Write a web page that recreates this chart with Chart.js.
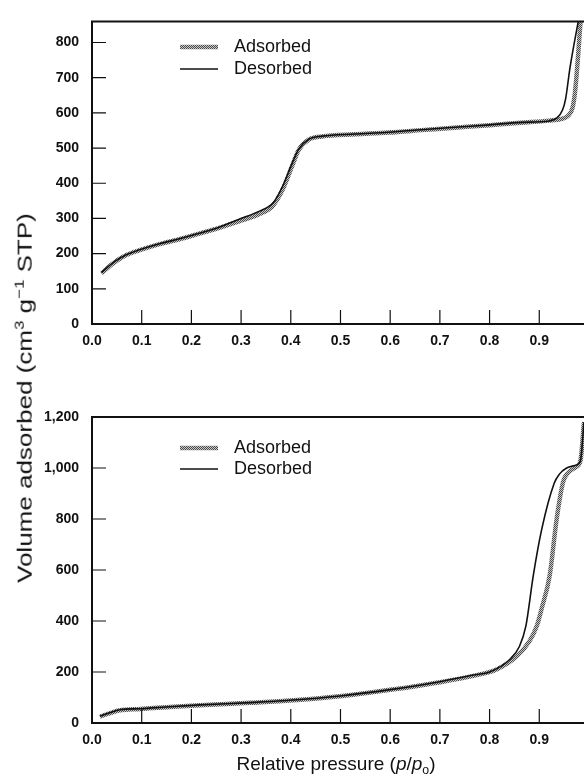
<!DOCTYPE html>
<html><head><meta charset="utf-8">
<script src="https://cdn.jsdelivr.net/npm/chart.js@4.4.1/dist/chart.umd.min.js"></script>
<style>
html,body{margin:0;padding:0;background:#fff;}
body{width:584px;height:778px;overflow:hidden;position:relative;font-family:"Liberation Sans",Arial,sans-serif;color:#111;}
canvas{position:absolute;left:0;}
#c1{top:0;}
#c2{top:380px;}
.yt{position:absolute;left:24px;top:398px;transform:translate(-50%,-50%) rotate(-90deg) scaleX(1.3);white-space:nowrap;font-size:20px;}
.xt{position:absolute;left:336px;top:765px;transform:translate(-50%,-50%);white-space:nowrap;font-size:19px;}
sup,sub{font-size:0.65em;}
</style>
</head><body>
<canvas id="c1" width="584" height="355"></canvas>
<canvas id="c2" width="584" height="375"></canvas>
<div class="yt">Volume adsorbed (cm<sup>3</sup> g<sup>−1</sup> STP)</div>
<div class="xt">Relative pressure (<i>p</i>/<i>p</i><sub>o</sub>)</div>
<script>
// ---- data ----
const seriesNames = ['Adsorbed', 'Desorbed'];
const xTickValues = [0, 0.1, 0.2, 0.3, 0.4, 0.5, 0.6, 0.7, 0.8, 0.9];
const topYTickValues = [0, 100, 200, 300, 400, 500, 600, 700, 800];
const bottomYTickValues = [0, 200, 400, 600, 800, 1000, 1200];

const topAdsP = [0.019,0.043,0.069,0.096,0.136,0.176,0.216,0.256,0.296,0.336,0.363,0.383,0.403,0.416,0.436,0.463,0.53,0.596,0.663,0.729,0.80,0.863,0.92,0.945,0.958,0.967,0.972,0.978,0.984,0.99];
const topAdsV = [144,173,196,210,227,241,257,273,292,312,335,380,450,495,524,533,539,544,551,558,565,572,578,583,592,615,660,760,872,900];
const topDesP = [0.019,0.043,0.069,0.096,0.136,0.176,0.216,0.256,0.296,0.336,0.365,0.383,0.403,0.416,0.436,0.463,0.53,0.596,0.663,0.729,0.80,0.863,0.92,0.935,0.947,0.953,0.962,0.98];
const topDesV = [146,175,197,211,228,242,258,275,298,320,345,390,458,497,525,534,540,545,552,559,566,573,577,585,609,640,730,872];

const botAdsP = [0.016,0.035,0.056,0.097,0.15,0.217,0.318,0.398,0.499,0.6,0.70,0.767,0.814,0.855,0.88,0.895,0.905,0.921,0.935,0.948,0.96,0.975,0.983,0.99];
const botAdsV = [25,38,50,55,62,70,79,88,105,130,160,185,210,262,320,380,450,579,800,945,985,1005,1030,1180];
const botDesP = [0.016,0.035,0.056,0.097,0.15,0.217,0.318,0.398,0.499,0.6,0.70,0.767,0.80,0.84,0.86,0.873,0.888,0.905,0.93,0.94,0.955,0.975,0.983,0.99];
const botDesV = [27,40,52,56,63,71,80,89,106,131,162,188,200,248,300,380,579,760,940,975,1000,1012,1030,1180];

// ---- helpers ----
function pts(xs, ys){ return xs.map((x,i)=>({x:x, y:ys[i]})); }
function stipple(ctx){
  const c=document.createElement('canvas'); c.width=2; c.height=2;
  const g=c.getContext('2d');
  g.fillStyle='#c8c8c8'; g.fillRect(0,0,2,2);
  g.fillStyle='#4a4a4a'; g.fillRect(0,0,1,1); g.fillRect(1,1,1,1);
  return ctx.createPattern(c,'repeat');
}

const framePlugin = {
  id:'frame',
  afterDraw(chart, args, o){
    const ctx=chart.ctx, a=chart.chartArea;
    const xs=chart.scales.x, ys=chart.scales.y;
    ctx.save();
    ctx.strokeStyle='#111'; ctx.lineWidth=2;
    ctx.beginPath();
    ctx.moveTo(a.right+2, a.top); ctx.lineTo(a.left, a.top); ctx.lineTo(a.left, a.bottom); ctx.lineTo(a.right+2, a.bottom);
    ctx.stroke();
    ctx.lineWidth=1.2;
    ctx.beginPath();
    o.xMarks.forEach(v=>{ const px=xs.getPixelForValue(v); ctx.moveTo(px,a.bottom); ctx.lineTo(px,a.bottom-o.len); });
    o.yMarks.forEach(v=>{ const py=ys.getPixelForValue(v); ctx.moveTo(a.left,py); ctx.lineTo(a.left+o.len,py); });
    ctx.stroke();
    // legend
    const ds=chart.data.datasets;
    ctx.font='18px "Liberation Sans", Arial, sans-serif';
    ctx.fillStyle='#111'; ctx.textBaseline='middle'; ctx.textAlign='left';
    ds.forEach((d,i)=>{
      const y=o.legY[i];
      ctx.beginPath(); ctx.moveTo(o.legX0,y); ctx.lineTo(o.legX1,y);
      ctx.strokeStyle=d.borderColor; ctx.lineWidth=d.borderWidth; ctx.stroke();
      ctx.fillText(d.label, o.legText, y);
    });
    ctx.restore();
  }
};

function makeChart(id, ads, des, yTicks, yMarks, padTop, xHeight, legY){
  const el=document.getElementById(id);
  const ctx=el.getContext('2d');
  const pat=stipple(ctx);
  return new Chart(ctx, {
    type:'scatter',
    data:{datasets:[
      {label:seriesNames[0], data:ads, showLine:true, pointRadius:0, borderColor:pat, borderWidth:4.5, cubicInterpolationMode:'monotone', order:2},
      {label:seriesNames[1], data:des, showLine:true, pointRadius:0, borderColor:'#111', borderWidth:1.6, cubicInterpolationMode:'monotone', order:1}
    ]},
    options:{
      responsive:false, animation:false, events:[],
      layout:{padding:{top:padTop,left:0,right:0,bottom:0}},
      plugins:{legend:{display:false}, tooltip:{enabled:false},
        frame:{xMarks:xTickValues.slice(1), yMarks:yMarks, len:14, legX0:180, legX1:218, legText:234, legY:legY}},
      scales:{
        x:{type:'linear', min:0, max:0.99,
          border:{display:false}, grid:{display:false, drawTicks:false},
          afterBuildTicks:s=>{ s.ticks=xTickValues.map(v=>({value:v})); },
          afterFit:s=>{ s.height=xHeight; },
          ticks:{padding:9, color:'#111', font:{family:'"Liberation Sans", Arial, sans-serif', size:14, weight:'bold'},
            callback:v=>Number(v).toFixed(1)}},
        y:{type:'linear', min:0, max:yTicks[yTicks.length-1] === 1200 ? 1200 : 860,
          border:{display:false}, grid:{display:false, drawTicks:false},
          afterBuildTicks:s=>{ s.ticks=yTicks.map(v=>({value:v})); },
          afterFit:s=>{ s.width=92; },
          ticks:{padding:13, color:'#111', font:{family:'"Liberation Sans", Arial, sans-serif', size:14, weight:'bold'},
            callback:v=>Number(v).toLocaleString('en-US')}}
      }
    },
    plugins:[framePlugin]
  });
}

makeChart('c1', pts(topAdsP, topAdsV), pts(topDesP, topDesV), topYTickValues, [100,200,300,400,500,600,700,800], 18, 31, [47,69]);
makeChart('c2', pts(botAdsP, botAdsV), pts(botDesP, botDesV), bottomYTickValues, [200,400,600,800,1000], 37, 32, [68,89]);
</script>
</body></html>
